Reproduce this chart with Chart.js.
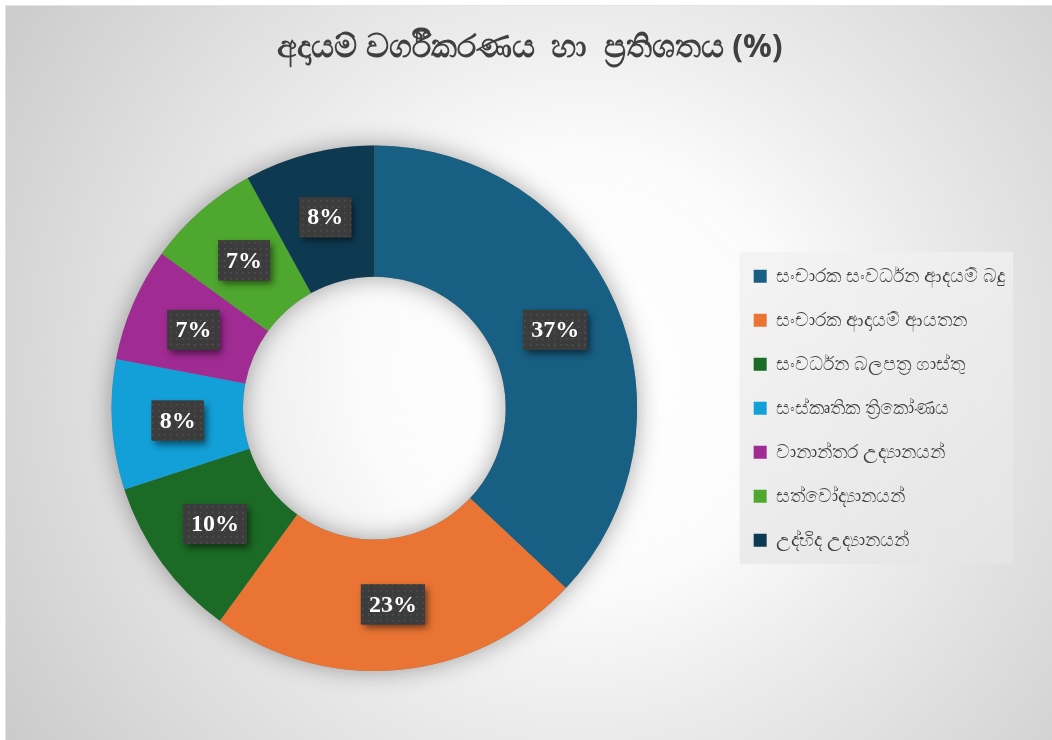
<!DOCTYPE html>
<html lang="si">
<head>
    <meta charset="UTF-8">
    <title>අදායම් වර්ගීකරණය</title>
    <style>
        html, body { margin: 0; padding: 0; background: #ffffff; }
        #wrap { width: 1052px; height: 740px; position: relative; }
    </style>
    <script src="https://cdn.jsdelivr.net/npm/chart.js"></script>
</head>
<body>
<div id="wrap"><canvas id="incomeChart" width="1052" height="740"></canvas></div>
<script>
    // chart data
    const categories = [
        'සංචාරක සංවර්ධන ආදයම් බදු',
        'සංචාරක ආදායම් ආයතන',
        'සංවර්ධන බලපත්‍ර ගාස්තු',
        'සංස්කෘතික ත්‍රිකෝණය',
        'වානාන්තර උද්‍යානයන්',
        'සත්වෝද්‍යානයන්',
        'උද්භිද උද්‍යානයන්'
    ];
    const shares = [37, 23, 10, 8, 7, 7, 8];
    const sliceColors = ['#175f83', '#e97433', '#1b6a25', '#139fd7', '#a02b93', '#4ea72e', '#0e3a51'];
    // leading spaces nudge the centred title a little to the right, like the original
    const chartTitle = '   අදායම් වර්ගීකරණය  හා  ප්‍රතිශතය (%)';

    // grey radial background + thin frame
    const backdrop = {
        id: 'backdrop',
        beforeDraw(chart) {
            const ctx = chart.ctx;
            const w = chart.width, h = chart.height;
            ctx.save();
            ctx.fillStyle = '#ffffff';
            ctx.fillRect(0, 0, w, h);
            const g = ctx.createRadialGradient(580, 370, 20, 580, 370, 680);
            g.addColorStop(0, '#ffffff');
            g.addColorStop(0.3, '#fbfbfb');
            g.addColorStop(0.5, '#ececec');
            g.addColorStop(1, '#cbcbcb');
            ctx.fillStyle = g;
            ctx.fillRect(5, 5, w - 5, h - 5);
            ctx.strokeStyle = '#e4e4e4';
            ctx.lineWidth = 1;
            ctx.strokeRect(5.5, 5.5, w, h);
            ctx.restore();
        }
    };

    // legend panel behind the legend items
    const legendPanel = {
        id: 'legendPanel',
        beforeDraw(chart) {
            const lg = chart.legend;
            if (!lg || !lg.legendHitBoxes || !lg.legendHitBoxes.length) return;
            const hb = lg.legendHitBoxes;
            const left = hb[0].left - 14;
            const top = hb[0].top - 15;
            const right = lg.right - 2;
            const last = hb[hb.length - 1];
            const bottom = last.top + last.height + 14;
            const ctx = chart.ctx;
            ctx.save();
            const g = ctx.createLinearGradient(left, top, right, bottom);
            g.addColorStop(0, '#f4f4f4');
            g.addColorStop(1, '#e4e4e4');
            ctx.fillStyle = g;
            ctx.fillRect(left, top, right - left, bottom - top);
            ctx.restore();
        }
    };

    // soft shadow ring under the doughnut
    const ringShadow = {
        id: 'ringShadow',
        beforeDatasetsDraw(chart) {
            const arc = chart.getDatasetMeta(0).data[0];
            if (!arc) return;
            const {x, y, outerRadius, innerRadius} = arc.getProps(['x', 'y', 'outerRadius', 'innerRadius'], true);
            const ctx = chart.ctx;
            ctx.save();
            ctx.shadowColor = 'rgba(0,0,0,0.35)';
            ctx.shadowBlur = 24;
            ctx.fillStyle = '#888888';
            ctx.beginPath();
            ctx.arc(x, y, outerRadius, 0, Math.PI * 2);
            ctx.arc(x, y, innerRadius, 0, Math.PI * 2, true);
            ctx.fill();
            ctx.restore();
        }
    };

    // dotted fill used by the label boxes
    function dotPattern(ctx) {
        const c = document.createElement('canvas');
        c.width = 6; c.height = 6;
        const p = c.getContext('2d');
        p.fillStyle = '#3c3c3c';
        p.fillRect(0, 0, 6, 6);
        p.fillStyle = '#525252';
        p.fillRect(2, 2, 1.5, 1.5);
        return ctx.createPattern(c, 'repeat');
    }

    // dark boxed percentage labels
    const valueBoxes = {
        id: 'valueBoxes',
        afterDatasetsDraw(chart) {
            const ctx = chart.ctx;
            const meta = chart.getDatasetMeta(0);
            const pat = dotPattern(ctx);
            ctx.save();
            ctx.font = 'bold 24px "Liberation Serif", "DejaVu Serif", serif';
            ctx.textAlign = 'center';
            ctx.textBaseline = 'middle';
            meta.data.forEach((arc, i) => {
                const pos = arc.tooltipPosition();
                const txt = shares[i] + '%';
                const tw = ctx.measureText(txt).width;
                const bw = tw + 16, bh = 40;
                ctx.save();
                ctx.shadowColor = 'rgba(0,0,0,0.55)';
                ctx.shadowBlur = 7;
                ctx.shadowOffsetX = 3;
                ctx.shadowOffsetY = 4;
                ctx.fillStyle = '#3c3c3c';
                ctx.fillRect(pos.x - bw / 2, pos.y - bh / 2, bw, bh);
                ctx.restore();
                ctx.fillStyle = pat;
                ctx.fillRect(pos.x - bw / 2, pos.y - bh / 2, bw, bh);
                ctx.fillStyle = '#ffffff';
                ctx.fillText(txt, pos.x, pos.y + 1);
            });
            ctx.restore();
        }
    };

    const ctx = document.getElementById('incomeChart').getContext('2d');
    new Chart(ctx, {
        type: 'doughnut',
        data: {
            labels: categories,
            datasets: [{
                data: shares,
                backgroundColor: sliceColors,
                borderWidth: 0
            }]
        },
        options: {
            responsive: false,
            animation: false,
            cutout: '50%',
            layout: { padding: { top: 0, bottom: 69, left: 20, right: 37 } },
            plugins: {
                title: {
                    display: true,
                    text: chartTitle,
                    color: '#404040',
                    font: { size: 32, weight: 'bold', family: '"Noto Sans", "DejaVu Sans", sans-serif' },
                    padding: { top: 29, bottom: 78 }
                },
                legend: {
                    position: 'right',
                    fullSize: false,
                    labels: {
                        color: '#404040',
                        boxWidth: 13,
                        boxHeight: 13,
                        padding: 25,
                        font: { size: 19, family: '"Noto Sans", "DejaVu Sans", sans-serif' }
                    }
                },
                tooltip: { enabled: false }
            }
        },
        plugins: [backdrop, legendPanel, ringShadow, valueBoxes]
    });
</script>
</body>
</html>
